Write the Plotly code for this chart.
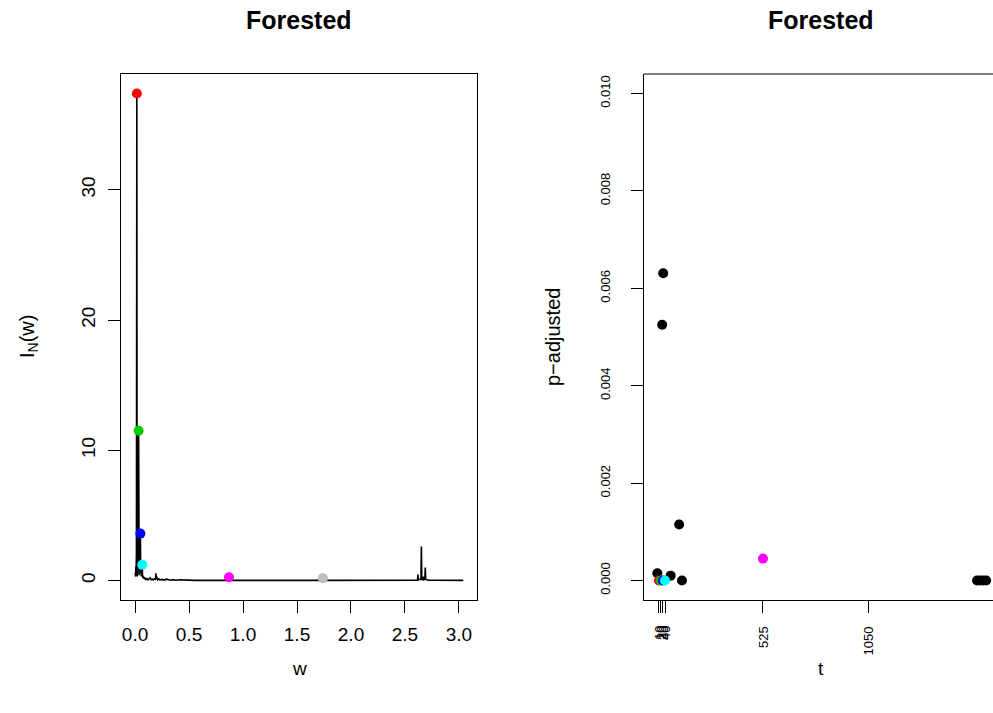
import plotly.graph_objects as go

W, H = 993, 713

# ---------------- data ----------------
# periodogram (left panel): frequency w and ordinate I_N(w)
w_vals = [0.002, 0.005, 0.008, 0.010, 0.013, 0.0166, 0.019, 0.021, 0.024, 0.027,
          0.030, 0.0332, 0.036, 0.038, 0.041, 0.044, 0.047, 0.0497, 0.052, 0.055,
          0.058, 0.061, 0.0663, 0.069, 0.072, 0.076, 0.080, 0.085, 0.090, 0.095,
          0.10, 0.11, 0.12, 0.13, 0.14, 0.15, 0.16, 0.17, 0.18, 0.19,
          0.193, 0.196, 0.199, 0.21, 0.22, 0.23, 0.25, 0.27, 0.29, 0.31, 0.33,
          0.35, 0.38, 0.41, 0.45, 0.50, 0.55, 0.60, 0.70, 0.80, 0.866, 0.870,
          0.874, 1.00, 1.20, 1.40, 1.60, 1.736, 1.740, 1.744, 2.00, 2.20, 2.40,
          2.55, 2.60, 2.616, 2.620, 2.624, 2.640, 2.648, 2.652, 2.656, 2.668,
          2.672, 2.676, 2.684, 2.688, 2.692, 2.70, 2.72,
          2.80, 2.90, 3.04]
I_vals = [0.6, 0.3, 1.1, 0.4, 2.2, 37.4, 0.9, 0.3, 1.6, 0.5,
          2.8, 11.5, 1.9, 0.4, 2.1, 0.7, 1.4, 3.6, 0.6, 0.9,
          0.3, 0.7, 1.2, 0.4, 0.2, 0.35, 0.15, 0.25, 0.1, 0.2,
          0.08, 0.15, 0.05, 0.12, 0.2, 0.06, 0.1, 0.04, 0.12, 0.1,
          0.55, 0.1, 0.3, 0.05, 0.12, 0.04, 0.08, 0.03, 0.1, 0.04, 0.02,
          0.06, 0.02, 0.05, 0.02, 0.03, 0.01, 0.02, 0.01, 0.02, 0.01, 0.25,
          0.01, 0.02, 0.01, 0.02, 0.01, 0.01, 0.18, 0.01, 0.02, 0.01, 0.02,
          0.03, 0.05, 0.03, 0.45, 0.05, 0.1, 0.05, 2.6, 0.1, 0.05,
          0.3, 0.05, 0.1, 1.0, 0.1, 0.05, 0.03,
          0.02, 0.01, 0.01]

# highlighted peaks (coloured points)
peak_w = [0.0166, 0.0332, 0.0497, 0.0663, 0.870, 1.740]
peak_I = [37.4, 11.5, 3.6, 1.2, 0.25, 0.18]
peak_colors = ["#FF0000", "#00CD00", "#0000FF", "#00FFFF", "#FF00FF", "#BEBEBE"]

# adjusted p-values (right panel)
black_t = [31, 26, 110, 2, 68, 124, 1585, 1600, 1615, 1630]
black_p = [0.00631, 0.00525, 0.00115, 0.00015, 0.0001, 0.0, 0.0, 0.0, 0.0, 0.0]
col_t = [10, 20, 30, 40, 525]
col_p = [0.0, 0.0, 0.0, 0.0, 0.00045]
col_colors = ["#FF0000", "#00CD00", "#0000FF", "#00FFFF", "#FF00FF"]

left_xticks = [0.0, 0.5, 1.0, 1.5, 2.0, 2.5, 3.0]
left_yticks = [0, 10, 20, 30]
right_yticks = [0.0, 0.002, 0.004, 0.006, 0.008, 0.010]
right_xticks = [10, 20, 30, 40, 525, 1050]

title_text = "Forested"

# ---------------- layout helpers ----------------
def px_x(p):
    return p / W

def px_y(p):
    return (H - p) / H

L_left, L_right = 121, 477
R_left, R_right = 644, 993
top, bottom = 74, 600

FONT = "Liberation Sans, Arial, Helvetica, sans-serif"
BASE = 19
SMALL = 13

fig = go.Figure()

fig.add_trace(go.Scatter(x=w_vals, y=I_vals, mode="lines",
                         line=dict(color="black", width=1.6),
                         xaxis="x", yaxis="y", showlegend=False,
                         hoverinfo="skip"))
fig.add_trace(go.Scatter(x=peak_w, y=peak_I, mode="markers",
                         marker=dict(color=peak_colors, size=10),
                         xaxis="x", yaxis="y", showlegend=False))

fig.add_trace(go.Scatter(x=black_t, y=black_p, mode="markers",
                         marker=dict(color="black", size=10),
                         xaxis="x2", yaxis="y2", showlegend=False))
fig.add_trace(go.Scatter(x=col_t, y=col_p, mode="markers",
                         marker=dict(color=col_colors, size=10),
                         xaxis="x2", yaxis="y2", showlegend=False))

axis_common = dict(showgrid=False, zeroline=False, showline=True,
                   linecolor="black", linewidth=1, ticks="outside",
                   tickcolor="black", tickwidth=1, ticklen=12)

fig.update_layout(
    width=W, height=H,
    margin=dict(l=0, r=0, t=0, b=0),
    paper_bgcolor="white", plot_bgcolor="white",
    font=dict(family=FONT, color="black"),
    xaxis=dict(domain=[px_x(L_left), px_x(L_right)], range=[-0.13, 3.167],
               tickvals=left_xticks, ticktext=["%.1f" % v for v in left_xticks],
               tickfont=dict(size=BASE), mirror=True, anchor="y",
               ticklabelstandoff=5, **axis_common),
    yaxis=dict(domain=[px_y(bottom), px_y(top)], range=[-1.5, 38.9],
               tickvals=left_yticks, ticktext=[str(v) for v in left_yticks],
               tickfont=dict(size=BASE), tickangle=-90, mirror=True, anchor="x",
               ticklabelstandoff=5, **axis_common),
    xaxis2=dict(domain=[px_x(R_left), 1.0], range=[-64, 1664],
                tickvals=right_xticks, showticklabels=False, anchor="y2",
                **axis_common),
    yaxis2=dict(domain=[px_y(bottom), px_y(top)], range=[-0.0004, 0.0104],
                tickvals=right_yticks, ticktext=["%.3f" % v for v in right_yticks],
                tickfont=dict(size=SMALL), tickangle=-90, anchor="x2",
                ticklabelstandoff=16, **axis_common),
)

# top border of the right panel (its right edge lies outside the picture)
fig.add_shape(type="line", xref="paper", yref="paper",
              x0=px_x(R_left), x1=1.01, y0=px_y(top), y1=px_y(top),
              line=dict(color="black", width=1))

ann = []
def label(x, y, text, size, angle=0):
    ann.append(dict(x=px_x(x), y=px_y(y), xref="paper", yref="paper",
                    xanchor="center", yanchor="middle", text=text,
                    showarrow=False, textangle=angle,
                    font=dict(size=size, family=FONT, color="black")))

# rotated tick labels of the right x axis (top-aligned just below the ticks)
for v in right_xticks:
    ann.append(dict(x=v, y=px_y(624), xref="x2", yref="paper",
                    xanchor="center", yanchor="top", text=str(v),
                    showarrow=False, textangle=-90,
                    font=dict(size=SMALL, family=FONT, color="black")))

cl = (L_left + L_right) / 2
label(cl, 20, "<b>%s</b>" % title_text, 25)
label(821, 20, "<b>%s</b>" % title_text, 25)
label(cl, 668, "w", BASE)
label(821, 668, "t", BASE)
label(28, 337, "I<sub>N</sub>(w)", 20, -90)
label(553, 337, "p\u2212adjusted", 20, -90)
fig.update_layout(annotations=ann)

fig.write_html("out.html")
